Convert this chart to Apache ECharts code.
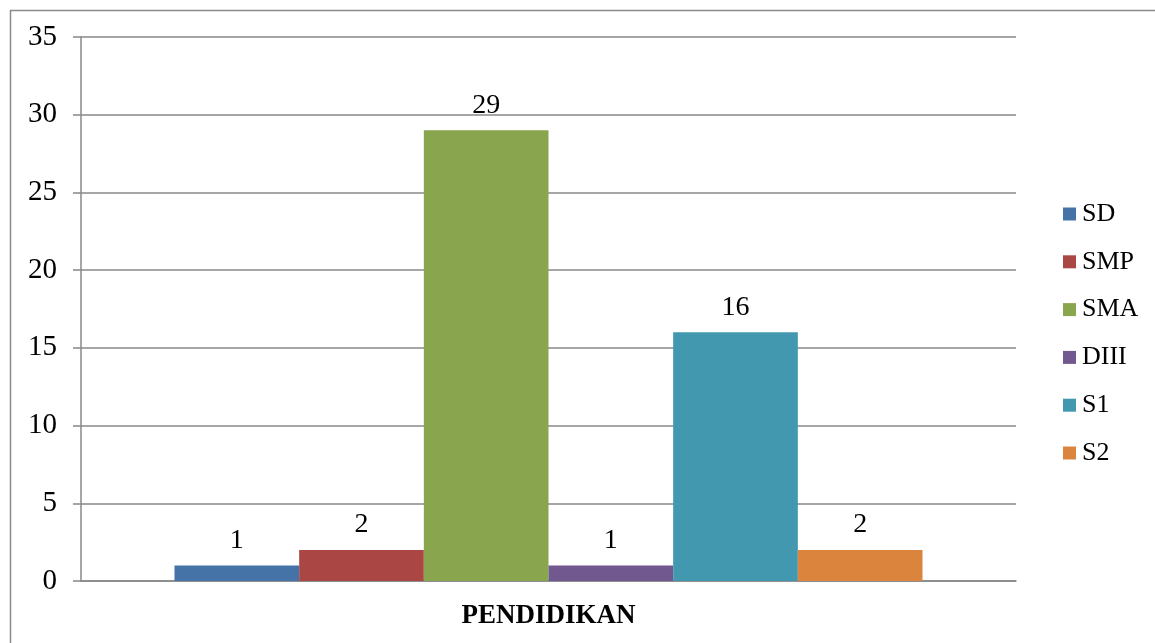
<!DOCTYPE html>
<html>
<head>
<meta charset="utf-8">
<script src="https://cdn.jsdelivr.net/npm/echarts@6/dist/echarts.min.js"></script>
<style>
html,body{margin:0;padding:0;background:#fff;}
#chart{width:1155px;height:643px;}
</style>
</head>
<body>
<div id="chart"></div>
<script>
const categories = ['PENDIDIKAN'];
const seriesNames = ['SD', 'SMP', 'SMA', 'DIII', 'S1', 'S2'];
const seriesValues = [[1], [2], [29], [1], [16], [2]];
const colors = ['#4572A7', '#AA4643', '#89A54E', '#71588F', '#4198AF', '#DB843D'];
const yTicks = { min: 0, max: 35, interval: 5 };

const FONT = '"Liberation Serif", "DejaVu Serif", serif';
const chart = echarts.init(document.getElementById('chart'));
chart.setOption({
  animation: false,
  backgroundColor: '#fff',
  textStyle: { fontFamily: FONT },
  graphic: [{
    type: 'rect', left: 8, top: 8, z: -1,
    shape: { width: 1300, height: 800 },
    style: { fill: 'none', stroke: '#8a8a8a', lineWidth: 1.5 }
  }],
  grid: { left: 81, right: 139, top: 37, bottom: 62, containLabel: false },
  legend: {
    orient: 'vertical', left: 1058, top: 196,
    itemWidth: 13, itemHeight: 13, itemGap: 21.8,
    icon: 'rect',
    data: seriesNames,
    textStyle: { fontFamily: FONT, fontSize: 26, color: '#000', lineHeight: 25, padding: [0, 0, 0, 1] }
  },
  xAxis: {
    type: 'category', data: categories,
    axisLine: { lineStyle: { color: '#888', width: 1.5 } },
    axisTick: { length: 9, lineStyle: { color: '#888', width: 1.5 } },
    axisLabel: { margin: 22, fontFamily: FONT, fontSize: 27, fontWeight: 'bold', color: '#000' }
  },
  yAxis: {
    type: 'value', min: yTicks.min, max: yTicks.max, interval: yTicks.interval,
    axisLine: { show: true, lineStyle: { color: '#888', width: 1.5 } },
    axisTick: { show: true, length: 8, lineStyle: { color: '#888', width: 1.5 } },
    axisLabel: { margin: 24, fontFamily: FONT, fontSize: 29, color: '#000' },
    splitLine: { lineStyle: { color: '#888', width: 1.5 } }
  },
  series: seriesNames.map((n, i) => ({
    name: n, type: 'bar', data: seriesValues[i],
    barGap: '0%', barCategoryGap: '20%',
    itemStyle: { color: colors[i] },
    label: { show: true, position: 'top', distance: 11, fontFamily: FONT, fontSize: 28, color: '#000' }
  }))
});
</script>
</body>
</html>
